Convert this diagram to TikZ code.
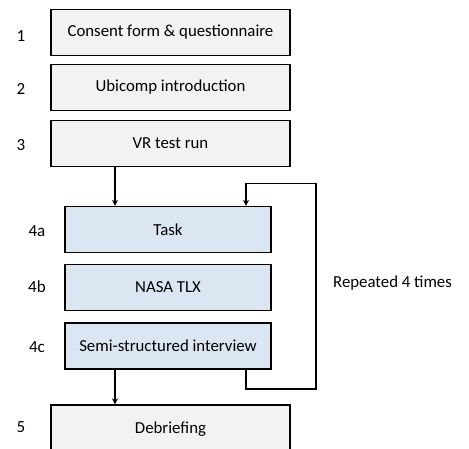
\documentclass[tikz,border=0pt]{standalone}
\usepackage{fontspec}
\setmainfont{Carlito}
\usetikzlibrary{arrows.meta}
\definecolor{grayfill}{HTML}{F2F2F2}
\definecolor{bluefill}{HTML}{DCE6F2}
\tikzset{
  boxfont/.style={font=\fontsize{16.8}{19}\selectfont},
  graybox/.style={draw=black, line width=1.4pt, fill=grayfill, minimum width=239pt, minimum height=46pt, inner sep=0pt, boxfont},
  bluebox/.style={draw=black, line width=1.4pt, fill=bluefill, minimum width=206pt, minimum height=46pt, inner sep=0pt, boxfont},
  numlab/.style={font=\fontsize{17}{19}\selectfont, inner sep=0pt},
  conn/.style={line width=1.3pt, -{Stealth[length=6pt,width=6pt]}},
}
\begin{document}
\begin{tikzpicture}[x=1pt,y=-1pt]
\useasboundingbox (0,0) rectangle (469,449);
\clip (0,0) rectangle (469,449);
\node[graybox] (b1) at (170.5,32.5) {Consent form \& questionnaire};
\node[graybox] (b2) at (170.5,87.5) {Ubicomp introduction};
\node[graybox] (b3) at (170.5,143.5) {VR test run};
\node[bluebox] (b4a) at (168,229.5) {Task};
\node[bluebox] (b4b) at (168,287.5) {NASA TLX};
\node[bluebox] (b4c) at (168,346) {Semi-structured interview};
\node[graybox, minimum height=70pt] (b5) at (170.5,440) {};
\node[boxfont] (t5) at (170.5,429) {Debriefing};
\node[numlab] (l1) at (21,36) {1};
\node[numlab] (l2) at (21,89) {2};
\node[numlab] (l3) at (21,145) {3};
\node[numlab] (l4a) at (37,231) {4a};
\node[numlab] (l4b) at (37,287) {4b};
\node[numlab] (l4c) at (37,347) {4c};
\node[numlab] (l5) at (21,427) {5};
\node[boxfont, anchor=west, inner sep=0pt] (rep) at (333,283) {Repeated 4 times};
\coordinate (c1) at (246,389);
\coordinate (c2) at (316,389);
\coordinate (c3) at (316,183.5);
\coordinate (c4) at (246,183.5);
\draw[conn] (b3.south -| 115,0) -- (b4a.north -| 115,0);
\draw[conn] (b4c.south -| 115,0) -- (b5.north -| 115,0);
\draw[conn] (b4c.south -| c1) -- (c1) -- (c2) -- (c3) -- (c4) -- (b4a.north -| c4);
\end{tikzpicture}
\end{document}
